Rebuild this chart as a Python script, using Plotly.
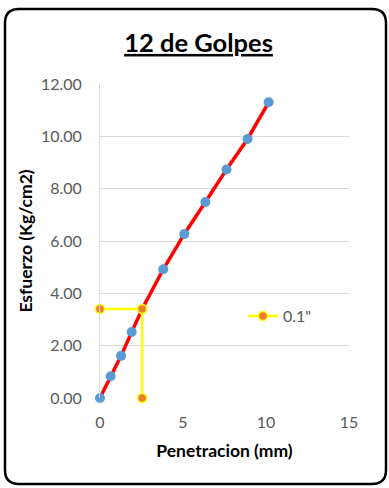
import plotly.graph_objects as go

# Curva esfuerzo-penetración (12 golpes)
penetracion = [0.0, 0.64, 1.27, 1.91, 2.54, 3.81, 5.08, 6.35, 7.62, 8.89, 10.16]
esfuerzo = [0.00, 0.83, 1.61, 2.52, 3.40, 4.92, 6.27, 7.49, 8.73, 9.90, 11.30]

# Lectura a 0.1" (2.54 mm)
ref_x = [0.0, 2.54, 2.54]
ref_y = [3.40, 3.40, 0.00]

x_ticks = [0, 5, 10, 15]
y_ticks = [0, 2, 4, 6, 8, 10, 12]

W, H = 389, 488
ML, MR, MT, MB = 100, 40, 84, 90
PW, PH = W - ML - MR, H - MT - MB


def px(x):
    return (x - ML) / PW


def py(y):
    return (H - MB - y) / PH


fig = go.Figure()

fig.add_trace(go.Scatter(
    x=penetracion, y=esfuerzo, mode="lines+markers",
    line=dict(color="#FF0000", width=3.5),
    marker=dict(color="#5B9BD5", size=10),
    showlegend=False, cliponaxis=False,
))

fig.add_trace(go.Scatter(
    x=ref_x, y=ref_y, mode="lines+markers", name='0.1"',
    line=dict(color="#FFFF00", width=2.5),
    marker=dict(color="#ED7D31", size=9, line=dict(color="#FFFF00", width=1.5)),
    cliponaxis=False,
))

# Marco redondeado del gráfico
x0, x1, y0, y1, r = 5, 386, 9, 484, 14
path = (
    f"M {px(x0 + r)} {py(y0)} L {px(x1 - r)} {py(y0)} "
    f"Q {px(x1)} {py(y0)} {px(x1)} {py(y0 + r)} "
    f"L {px(x1)} {py(y1 - r)} Q {px(x1)} {py(y1)} {px(x1 - r)} {py(y1)} "
    f"L {px(x0 + r)} {py(y1)} Q {px(x0)} {py(y1)} {px(x0)} {py(y1 - r)} "
    f"L {px(x0)} {py(y0 + r)} Q {px(x0)} {py(y0)} {px(x0 + r)} {py(y0)} Z"
)
fig.add_shape(type="path", path=path, xref="paper", yref="paper",
              line=dict(color="#000000", width=2.5), layer="above")

font = "Lato, Calibri, sans-serif"

fig.update_layout(
    width=W, height=H,
    margin=dict(l=ML, r=MR, t=MT, b=MB),
    paper_bgcolor="white", plot_bgcolor="white",
    font=dict(family=font, color="#595959"),
    title=dict(text="<b><u>12 de Golpes</u></b>", x=198.5 / W, xanchor="center",
               y=1 - 43 / H, yanchor="middle",
               font=dict(size=25.5, color="#000000", family=font)),
    xaxis=dict(
        range=[0, 15], tickvals=x_ticks, ticktext=[str(v) for v in x_ticks],
        showgrid=False, zeroline=False, showline=False,
        ticks="outside", ticklen=10, tickcolor="rgba(0,0,0,0)",
        tickfont=dict(size=16, color="#595959"),
        title=dict(text="<b>Penetracion (mm)</b>", standoff=14,
                   font=dict(size=17.5, color="#000000")),
    ),
    yaxis=dict(
        range=[0, 12], tickvals=y_ticks, ticktext=[f"{v:.2f}" for v in y_ticks],
        showgrid=True, gridcolor="#D9D9D9", gridwidth=1,
        zeroline=False, showline=True, linecolor="#D9D9D9", linewidth=1,
        ticks="outside", ticklen=14, tickcolor="rgba(0,0,0,0)",
        tickfont=dict(size=16, color="#595959"),
        title=dict(text="<b>Esfuerzo (Kg/cm2)</b>", standoff=3,
                   font=dict(size=17.5, color="#000000")),
    ),
    legend=dict(x=px(243), y=py(316), xanchor="left", yanchor="middle",
                bgcolor="rgba(0,0,0,0)", font=dict(size=16, color="#595959")),
)

fig.write_html("out.html")
